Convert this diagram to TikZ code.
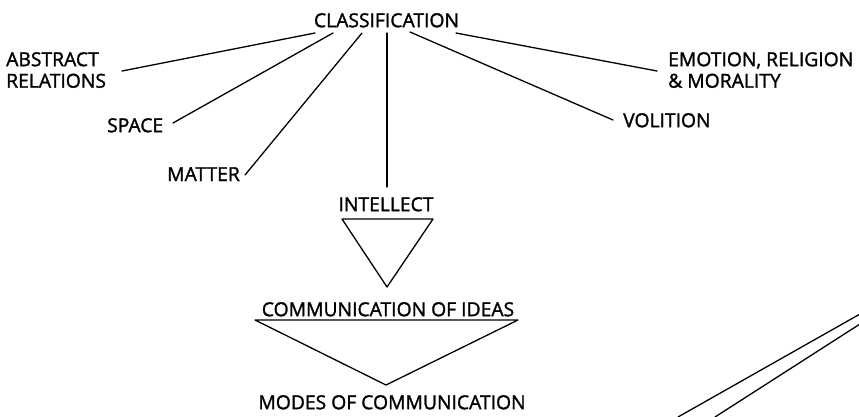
\documentclass[tikz,border=0pt]{standalone}
\usepackage{fontspec}
\setmainfont{Open Sans}[FakeBold=1.5]
\begin{document}
\begin{tikzpicture}[x=1pt,y=-1pt,
  lbl/.style={inner sep=0pt, font=\fontsize{19.3}{21.5}\selectfont\addfontfeature{FakeBold=1.5}, align=left},
  ln/.style={line width=1.3pt, line cap=round, line join=round}]
\useasboundingbox (0,0) rectangle (859,416);
% labels
\node[lbl, anchor=north] (cls) at (386.5,13) {CLASSIFICATION};
\node[lbl, anchor=north west] (abs) at (6,52) {ABSTRACT\\RELATIONS};
\node[lbl, anchor=north west] (spa) at (107,118) {SPACE};
\node[lbl, anchor=north west] (mat) at (167,167) {MATTER};
\node[lbl, anchor=north] (int) at (386,197) {INTELLECT};
\node[lbl, anchor=north west] (emo) at (668,52) {EMOTION, RELIGION\\\& MORALITY};
\node[lbl, anchor=north west] (vol) at (623,113) {VOLITION};
\node[lbl, anchor=north] (com) at (388,302) {COMMUNICATION OF IDEAS};
\node[lbl, anchor=north] (mod) at (392,395) {MODES OF COMMUNICATION};
% connector ends
\coordinate (c1) at (315,33);
\coordinate (c2) at (333,33);
\coordinate (c3) at (362,33);
\coordinate (c4) at (387,33);
\coordinate (c5) at (410,32);
\coordinate (c6) at (456,33);
\coordinate (a1) at (122,71);
\coordinate (s1) at (173,123);
\coordinate (m1) at (245,175);
\coordinate (i1) at (387,187);
\coordinate (v1) at (613,120);
\coordinate (e1) at (657,71);
\draw[ln] (a1) -- (c1);
\draw[ln] (s1) -- (c2);
\draw[ln] (m1) -- (c3);
\draw[ln] (i1) -- (c4);
\draw[ln] (v1) -- (c5);
\draw[ln] (e1) -- (c6);
% triangles
\coordinate (t1a) at (342,219);
\coordinate (t1b) at (433,219);
\coordinate (t1c) at (387,287);
\draw[ln] (t1a) -- (t1b) -- (t1c) -- cycle;
\coordinate (t2a) at (255,320);
\coordinate (t2b) at (518,320);
\coordinate (t2c) at (386,385);
\draw[ln] (t2a) -- (t2b) -- (t2c) -- cycle;
% bottom-right lines
\coordinate (r1a) at (678,417);
\coordinate (r1b) at (860,314);
\coordinate (r2a) at (715,417);
\coordinate (r2b) at (860,324);
\draw[ln] (r1a) -- (r1b);
\draw[ln] (r2a) -- (r2b);
\end{tikzpicture}
\end{document}
